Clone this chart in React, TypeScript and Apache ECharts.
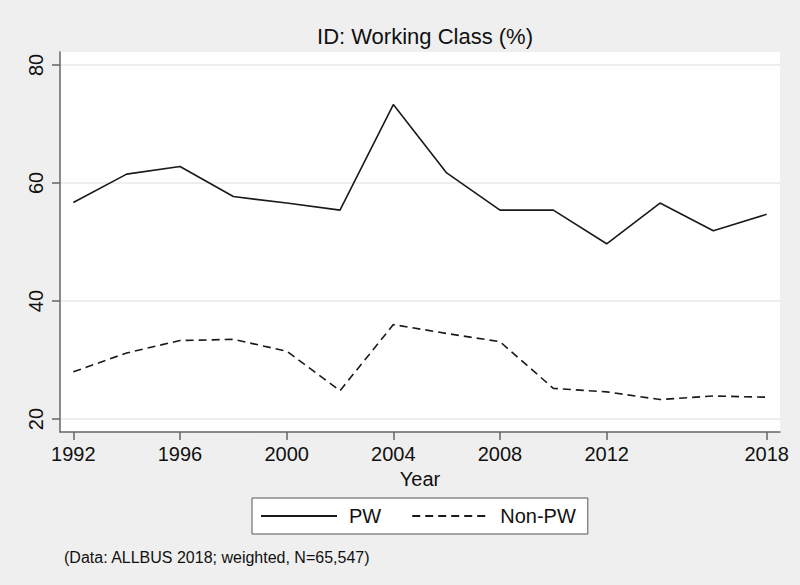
import React, { useEffect, useRef } from "react";
import * as echarts from "echarts";

const years = [1992, 1994, 1996, 1998, 2000, 2002, 2004, 2006, 2008, 2010, 2012, 2014, 2016, 2018];
const pw = [56.7, 61.5, 62.8, 57.7, 56.6, 55.4, 73.3, 61.7, 55.4, 55.4, 49.7, 56.6, 51.9, 54.7];
const nonPw = [28.0, 31.2, 33.3, 33.5, 31.5, 24.8, 36.0, 34.5, 33.1, 25.2, 24.6, 23.3, 23.9, 23.7];
const xTicks = [1992, 1996, 2000, 2004, 2008, 2012, 2018];
const yTicks = [20, 40, 60, 80];

const FONT = "'Liberation Sans', Arial, sans-serif";

export default function App() {
  const ref = useRef<HTMLDivElement>(null);
  useEffect(() => {
    if (!ref.current) return;
    const chart = echarts.init(ref.current, undefined, { renderer: "svg" });
    const lineColor = "#1a1a1a";
    chart.setOption({
      animation: false,
      backgroundColor: "#efefef",
      textStyle: { fontFamily: FONT },
      title: {
        text: "ID: Working Class (%)",
        left: 420,
        top: 20,
        textAlign: "center",
        textStyle: { fontSize: 22, fontWeight: "normal", color: "#111", fontFamily: FONT },
      },
      grid: {
        left: 60,
        right: 20,
        top: 52,
        bottom: 153,
        show: true,
        backgroundColor: "#ffffff",
        borderWidth: 0,
      },
      xAxis: {
        type: "value",
        min: 1991.5,
        max: 2018.5,
        name: "Year",
        nameLocation: "middle",
        nameGap: 27,
        nameTextStyle: { fontSize: 20, color: "#111", fontFamily: FONT },
        axisLine: { show: true, lineStyle: { color: "#666", width: 1.5 } },
        axisTick: { show: true, length: 8, customValues: xTicks, lineStyle: { color: "#666", width: 1.5 } },
        axisLabel: {
          customValues: xTicks,
          fontSize: 20,
          color: "#111",
          margin: 12,
          fontFamily: FONT,
          formatter: (v: number) => String(v),
        },
        splitLine: { show: false },
      },
      yAxis: {
        type: "value",
        min: 17.8,
        max: 82.2,
        axisLine: { show: true, lineStyle: { color: "#666", width: 1.5 } },
        axisTick: { show: true, length: 8, customValues: yTicks, lineStyle: { color: "#666", width: 1.5 } },
        axisLabel: {
          customValues: yTicks,
          fontSize: 20,
          rotate: 90,
          color: "#111",
          margin: 14,
          fontFamily: FONT,
        },
        splitLine: { show: true, lineStyle: { color: "#e8e8e8", width: 1.5 } },
      },
      legend: {
        data: ["PW", "Non-PW"],
        left: 252,
        top: 498,
        orient: "horizontal",
        backgroundColor: "#ffffff",
        borderColor: "#555",
        borderWidth: 1,
        borderRadius: 0,
        padding: [8, 12, 8, 8],
        itemWidth: 76,
        itemHeight: 20,
        itemGap: 30,
        itemStyle: { opacity: 0 },
        textStyle: { fontSize: 20, color: "#111", fontFamily: FONT, padding: [0, 0, 0, 7] },
      },
      series: [
        {
          name: "PW",
          type: "line",
          data: years.map((y, i) => [y, pw[i]]),
          symbol: "none",
          lineStyle: { color: lineColor, width: 1.6, type: "solid" },
          itemStyle: { color: lineColor },
        },
        {
          name: "Non-PW",
          type: "line",
          data: years.map((y, i) => [y, nonPw[i]]),
          symbol: "none",
          lineStyle: { color: lineColor, width: 1.6, type: [8, 5] },
          itemStyle: { color: lineColor },
        },
      ],
      graphic: [
        {
          type: "text",
          left: 64,
          top: 549,
          style: {
            text: "(Data: ALLBUS 2018; weighted, N=65,547)",
            fontSize: 16,
            fill: "#111",
            fontFamily: FONT,
          },
        },
      ],
    });
    return () => chart.dispose();
  }, []);
  return (
    <div
      ref={ref}
      style={{ position: "absolute", left: 0, top: 0, width: 800, height: 585 }}
    />
  );
}
